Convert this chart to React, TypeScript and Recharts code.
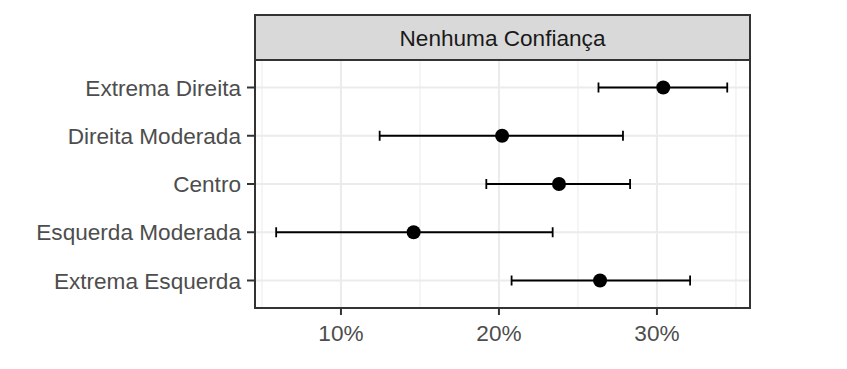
import { ScatterChart, Scatter, XAxis, YAxis, CartesianGrid, ErrorBar, ReferenceLine } from 'recharts';

// ordered bottom to top, as in the panel
const categories = ['Extrema Esquerda', 'Esquerda Moderada', 'Centro', 'Direita Moderada', 'Extrema Direita'];
const estimates = [26.4, 14.6, 23.8, 20.2, 30.4];
const lower = [20.8, 5.9, 19.2, 12.45, 26.3];
const upper = [32.1, 23.4, 28.3, 27.85, 34.45];

const xTicks = [10, 20, 30];
const xMinorTicks = [5, 15, 25, 35];
const stripLabel = 'Nenhuma Confiança';

const data = categories.map((name, i) => ({
  name,
  pos: i,
  value: estimates[i],
  err: [estimates[i] - lower[i], upper[i] - estimates[i]],
}));

const FONT = '"Liberation Sans", Arial, sans-serif';
const FS = 22.6;

const Dot = (props: any) => <circle cx={props.cx} cy={props.cy} r={7} fill="#000" />;

export default function App() {
  return (
    <div style={{ position: 'absolute', left: 0, top: 0, width: 847, height: 369, background: '#fff', fontFamily: FONT }}>
      <ScatterChart width={847} height={369} margin={{ top: 60, right: 97, bottom: 31, left: 0 }}>
        <CartesianGrid stroke="#ebebeb" strokeWidth={2} />
        {xMinorTicks.map((t) => (
          <ReferenceLine key={t} x={t} stroke="#ebebeb" strokeWidth={1} />
        ))}
        <XAxis
          type="number"
          dataKey="value"
          domain={[4.56, 35.89]}
          ticks={xTicks}
          tickFormatter={(v) => `${v}%`}
          axisLine={false}
          tickLine={{ stroke: '#333', strokeWidth: 2 }}
          tickSize={7}
          tickMargin={10}
          height={30}
          tick={{ fill: '#4d4d4d', fontSize: FS, fontFamily: FONT }}
        />
        <YAxis
          type="number"
          dataKey="pos"
          domain={[-0.57, 4.57]}
          ticks={[0, 1, 2, 3, 4]}
          tickFormatter={(v) => categories[v]}
          axisLine={false}
          tickLine={{ stroke: '#333', strokeWidth: 2 }}
          tickSize={8}
          tickMargin={6}
          width={255}
          tick={{ fill: '#4d4d4d', fontSize: FS, fontFamily: FONT }}
        />
        <Scatter data={data} shape={Dot} isAnimationActive={false}>
          <ErrorBar dataKey="err" direction="x" width={5} stroke="#000" strokeWidth={1.8} />
        </Scatter>
      </ScatterChart>
      <svg width={847} height={369} style={{ position: 'absolute', left: 0, top: 0, pointerEvents: 'none' }}>
        <rect x={255} y={60} width={495} height={248} fill="none" stroke="#333" strokeWidth={2} />
        <rect x={255} y={15} width={495} height={45} fill="#d9d9d9" stroke="#333" strokeWidth={2} />
        <text x={502.5} y={46} textAnchor="middle" fontSize={FS} fill="#1a1a1a" fontFamily={FONT}>
          {stripLabel}
        </text>
      </svg>
    </div>
  );
}
